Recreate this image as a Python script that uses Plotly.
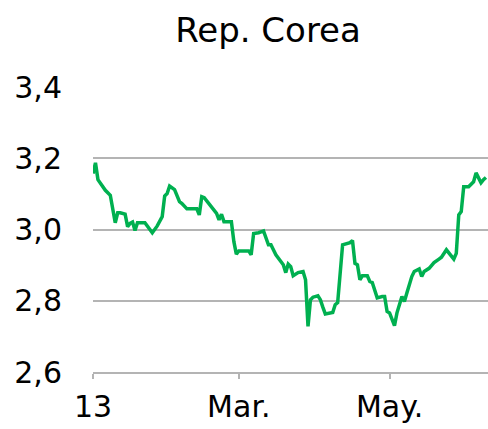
import plotly.graph_objects as go

# Rep. Corea, daily series (2013)
dates = [
    "2013-01-01", "2013-01-02", "2013-01-03", "2013-01-04", "2013-01-06", "2013-01-08",
    "2013-01-09", "2013-01-10", "2013-01-11", "2013-01-12", "2013-01-14", "2013-01-15",
    "2013-01-16", "2013-01-17", "2013-01-18", "2013-01-19", "2013-01-22", "2013-01-25",
    "2013-01-27", "2013-01-29", "2013-01-30", "2013-01-31", "2013-02-01", "2013-02-03",
    "2013-02-05", "2013-02-06", "2013-02-08", "2013-02-12", "2013-02-13", "2013-02-14",
    "2013-02-15", "2013-02-18", "2013-02-20", "2013-02-21", "2013-02-22", "2013-02-23",
    "2013-02-26", "2013-02-27", "2013-02-28", "2013-03-01", "2013-03-05", "2013-03-06",
    "2013-03-07", "2013-03-09", "2013-03-11", "2013-03-13", "2013-03-14", "2013-03-16",
    "2013-03-18", "2013-03-19", "2013-03-20", "2013-03-21", "2013-03-22", "2013-03-23",
    "2013-03-25", "2013-03-27", "2013-03-28", "2013-03-29", "2013-03-30", "2013-03-31",
    "2013-04-02", "2013-04-03", "2013-04-04", "2013-04-05", "2013-04-08", "2013-04-09",
    "2013-04-10", "2013-04-12", "2013-04-15", "2013-04-16", "2013-04-17", "2013-04-18",
    "2013-04-19", "2013-04-20", "2013-04-22", "2013-04-23", "2013-04-24", "2013-04-26",
    "2013-04-28", "2013-04-29", "2013-04-30", "2013-05-01", "2013-05-03", "2013-05-04",
    "2013-05-06", "2013-05-07", "2013-05-08", "2013-05-10", "2013-05-11", "2013-05-13",
    "2013-05-14", "2013-05-15", "2013-05-17", "2013-05-19", "2013-05-21", "2013-05-22",
    "2013-05-24", "2013-05-27", "2013-05-28", "2013-05-29", "2013-05-30", "2013-05-31",
    "2013-06-02", "2013-06-04", "2013-06-05", "2013-06-07", "2013-06-08", "2013-06-09",
]
values = [
    3.157, 3.187, 3.140, 3.129, 3.110, 3.096,
    3.050, 3.019, 3.047, 3.047, 3.043, 3.008,
    3.017, 3.021, 2.997, 3.019, 3.019, 2.991,
    3.010, 3.036, 3.094, 3.101, 3.122, 3.112,
    3.078, 3.073, 3.058, 3.058, 3.041, 3.092,
    3.089, 3.064, 3.045, 3.027, 3.043, 3.022,
    3.022, 2.966, 2.931, 2.940, 2.940, 2.929,
    2.989, 2.991, 2.996, 2.957, 2.957, 2.929,
    2.910, 2.901, 2.879, 2.903, 2.896, 2.870,
    2.879, 2.882, 2.859, 2.728, 2.803, 2.810,
    2.814, 2.803, 2.782, 2.763, 2.767, 2.789,
    2.795, 2.957, 2.963, 2.969, 2.905, 2.901,
    2.859, 2.870, 2.870, 2.854, 2.851, 2.808,
    2.812, 2.812, 2.770, 2.766, 2.730, 2.766,
    2.812, 2.798, 2.822, 2.868, 2.882, 2.889,
    2.868, 2.882, 2.891, 2.907, 2.917, 2.922,
    2.943, 2.917, 2.933, 3.041, 3.050, 3.120,
    3.120, 3.134, 3.159, 3.131, 3.140, 3.146,
]

x_tickvals = ["2013-01-01", "2013-03-01", "2013-05-01"]
x_ticktext = ["13", "Mar.", "May."]
y_tickvals = [2.6, 2.8, 3.0, 3.2, 3.4]
y_ticktext = ["2,6", "2,8", "3,0", "3,2", "3,4"]

grey = "#b4b4b4"

fig = go.Figure()
fig.add_trace(go.Scatter(
    x=dates, y=values, mode="lines",
    line=dict(color="#00b050", width=3.5),
    showlegend=False,
))

fig.update_layout(
    width=488, height=429,
    margin=dict(l=93, r=0, t=87, b=57),
    paper_bgcolor="white", plot_bgcolor="white",
    font=dict(family="DejaVu Sans", size=30, color="black"),
    title=dict(text="Rep. Corea", x=268 / 488, xref="container", xanchor="center",
               y=1 - 30 / 429, yref="container", yanchor="middle", font=dict(size=34)),
)
fig.update_xaxes(
    type="date", range=["2013-01-01", "2013-06-09 20:00"],
    tickvals=x_tickvals, ticktext=x_ticktext,
    showgrid=False, showline=True, linecolor=grey, linewidth=2,
    ticks="outside", ticklen=5, tickwidth=2, tickcolor=grey,
    ticklabelstandoff=2, automargin=False,
)
fig.update_yaxes(
    range=[2.6, 3.4], tickvals=y_tickvals, ticktext=y_ticktext,
    showgrid=True, gridcolor=grey, gridwidth=2,
    zeroline=False, showline=False, ticks="",
    ticklabelstandoff=30, automargin=False,
)

# drop the browser's default page margin so the figure sits at the top-left corner
fig.write_html("out.html", config={"displayModeBar": False},
               post_script="document.body.style.margin='0';")
